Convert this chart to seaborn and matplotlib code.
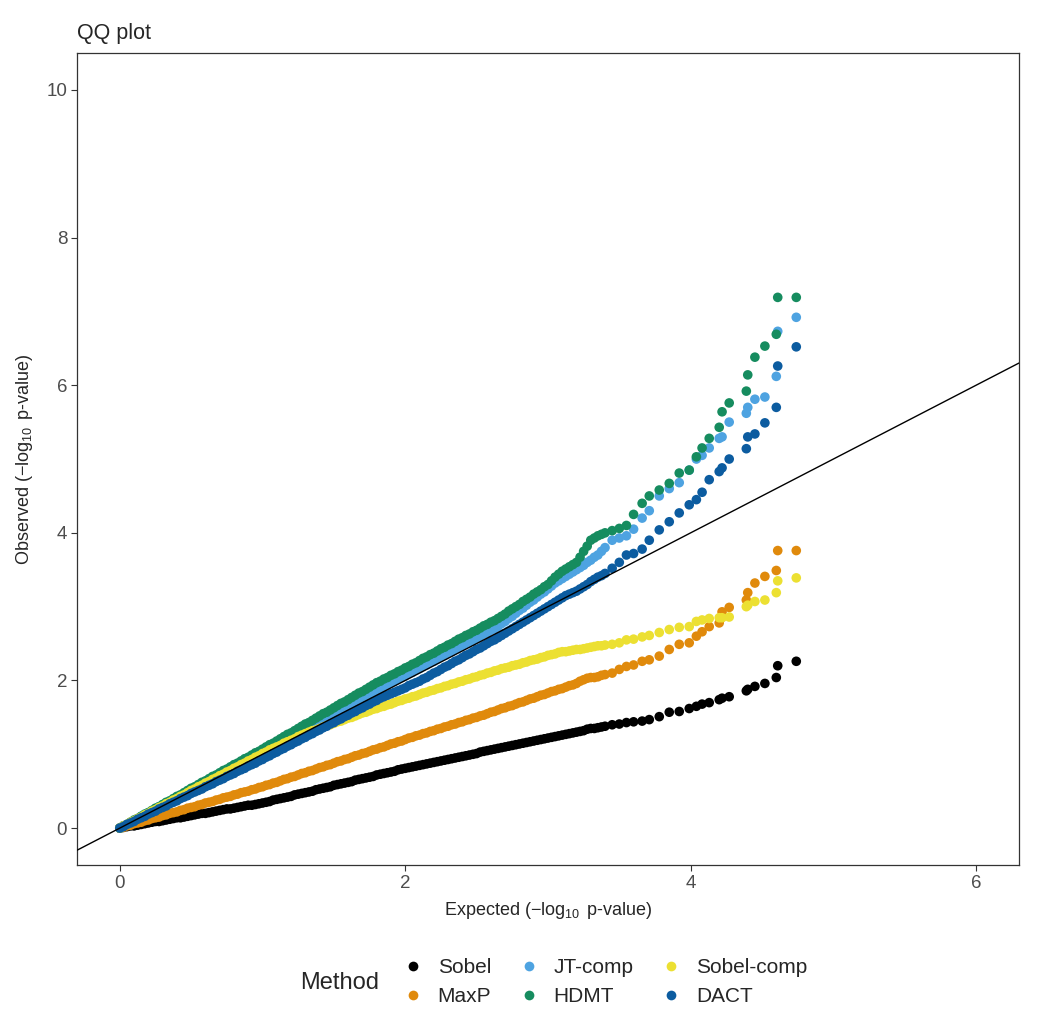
import numpy as np
import pandas as pd
import seaborn as sns
import matplotlib.pyplot as plt

methods = ["Sobel", "MaxP", "JT-comp", "HDMT", "Sobel-comp", "DACT"]
colors = ["#000000", "#E08A0C", "#4EA3E1", "#168C5F", "#ECE032", "#0C5CA0"]

# expected -log10 p, shared by all methods: dense part, then the sparse tail
expected_dense = [
    0.000, 0.025, 0.050, 0.075, 0.100, 0.125, 0.150, 0.175,
    0.200, 0.225, 0.250, 0.275, 0.300, 0.325, 0.350, 0.375,
    0.400, 0.425, 0.450, 0.475, 0.500, 0.525, 0.550, 0.575,
    0.600, 0.625, 0.650, 0.675, 0.700, 0.725, 0.750, 0.775,
    0.800, 0.825, 0.850, 0.875, 0.900, 0.925, 0.950, 0.975,
    1.000, 1.025, 1.050, 1.075, 1.100, 1.125, 1.150, 1.175,
    1.200, 1.225, 1.250, 1.275, 1.300, 1.325, 1.350, 1.375,
    1.400, 1.425, 1.450, 1.475, 1.500, 1.525, 1.550, 1.575,
    1.600, 1.625, 1.650, 1.675, 1.700, 1.725, 1.750, 1.775,
    1.800, 1.825, 1.850, 1.875, 1.900, 1.925, 1.950, 1.975,
    2.000, 2.025, 2.050, 2.075, 2.100, 2.125, 2.150, 2.175,
    2.200, 2.225, 2.250, 2.275, 2.300, 2.325, 2.350, 2.375,
    2.400, 2.425, 2.450, 2.475, 2.500, 2.525, 2.550, 2.575,
    2.600, 2.625, 2.650, 2.675, 2.700, 2.725, 2.750, 2.775,
    2.800, 2.825, 2.850, 2.875, 2.900, 2.925, 2.950, 2.975,
    3.000, 3.025, 3.050, 3.075, 3.100, 3.125, 3.150, 3.175,
    3.200, 3.225, 3.250, 3.275, 3.300, 3.325, 3.350, 3.375,
    3.400,
]
expected_tail = [
    3.45, 3.50, 3.55, 3.60, 3.66, 3.71, 3.78, 3.85, 3.92, 3.99,
    4.04, 4.08, 4.13, 4.20, 4.22, 4.27, 4.39, 4.40, 4.45, 4.52,
    4.60, 4.61, 4.74,
]
expected = expected_dense + expected_tail

obs_sobel = [
    0.00, 0.01, 0.02, 0.03, 0.03, 0.04, 0.05, 0.06,
    0.07, 0.08, 0.09, 0.09, 0.10, 0.11, 0.12, 0.13,
    0.14, 0.14, 0.15, 0.16, 0.17, 0.18, 0.19, 0.20,
    0.20, 0.21, 0.22, 0.23, 0.24, 0.25, 0.26, 0.26,
    0.27, 0.28, 0.29, 0.30, 0.31, 0.31, 0.32, 0.33,
    0.34, 0.35, 0.36, 0.38, 0.39, 0.40, 0.41, 0.42,
    0.43, 0.45, 0.46, 0.47, 0.48, 0.49, 0.50, 0.52,
    0.53, 0.54, 0.55, 0.56, 0.58, 0.59, 0.60, 0.61,
    0.62, 0.63, 0.65, 0.66, 0.67, 0.68, 0.69, 0.70,
    0.72, 0.73, 0.74, 0.75, 0.76, 0.77, 0.79, 0.80,
    0.81, 0.82, 0.83, 0.84, 0.85, 0.86, 0.87, 0.88,
    0.89, 0.90, 0.91, 0.92, 0.93, 0.94, 0.95, 0.96,
    0.97, 0.98, 0.99, 1.00, 1.01, 1.03, 1.04, 1.05,
    1.06, 1.07, 1.08, 1.09, 1.10, 1.11, 1.12, 1.13,
    1.14, 1.15, 1.16, 1.17, 1.18, 1.19, 1.20, 1.21,
    1.22, 1.23, 1.24, 1.25, 1.26, 1.27, 1.28, 1.29,
    1.30, 1.31, 1.32, 1.34, 1.35, 1.35, 1.36, 1.37,
    1.38,
] + [
    1.40, 1.41, 1.43, 1.44, 1.45, 1.47, 1.51, 1.57, 1.58, 1.62,
    1.65, 1.68, 1.70, 1.74, 1.76, 1.78, 1.86, 1.88, 1.92, 1.96,
    2.04, 2.20, 2.26,
]

obs_maxp = [
    0.00, 0.01, 0.03, 0.04, 0.06, 0.07, 0.08, 0.10,
    0.11, 0.13, 0.14, 0.15, 0.17, 0.18, 0.20, 0.21,
    0.22, 0.24, 0.25, 0.27, 0.28, 0.29, 0.31, 0.32,
    0.34, 0.35, 0.36, 0.38, 0.39, 0.41, 0.42, 0.43,
    0.45, 0.46, 0.48, 0.49, 0.50, 0.52, 0.53, 0.55,
    0.56, 0.58, 0.59, 0.61, 0.62, 0.64, 0.66, 0.67,
    0.69, 0.70, 0.72, 0.74, 0.75, 0.77, 0.78, 0.80,
    0.82, 0.83, 0.85, 0.86, 0.88, 0.90, 0.91, 0.93,
    0.94, 0.96, 0.98, 0.99, 1.01, 1.02, 1.04, 1.06,
    1.07, 1.09, 1.10, 1.12, 1.14, 1.15, 1.17, 1.18,
    1.20, 1.22, 1.23, 1.25, 1.26, 1.28, 1.29, 1.31,
    1.32, 1.34, 1.35, 1.37, 1.38, 1.40, 1.41, 1.43,
    1.44, 1.46, 1.47, 1.49, 1.50, 1.52, 1.53, 1.55,
    1.57, 1.58, 1.60, 1.62, 1.63, 1.65, 1.66, 1.68,
    1.70, 1.71, 1.73, 1.75, 1.76, 1.78, 1.80, 1.81,
    1.83, 1.85, 1.86, 1.88, 1.89, 1.91, 1.93, 1.94,
    1.96, 1.99, 2.01, 2.03, 2.04, 2.04, 2.05, 2.07,
    2.08,
] + [
    2.10, 2.15, 2.19, 2.21, 2.26, 2.28, 2.33, 2.42, 2.49, 2.51,
    2.60, 2.66, 2.73, 2.78, 2.93, 2.99, 3.09, 3.19, 3.32, 3.41,
    3.49, 3.76, 3.76,
]

obs_jt = [
    0.00, 0.03, 0.05, 0.08, 0.10, 0.13, 0.16, 0.18,
    0.21, 0.23, 0.26, 0.29, 0.31, 0.34, 0.36, 0.39,
    0.42, 0.44, 0.47, 0.49, 0.52, 0.55, 0.57, 0.60,
    0.62, 0.65, 0.68, 0.70, 0.73, 0.75, 0.78, 0.81,
    0.83, 0.86, 0.88, 0.91, 0.94, 0.96, 0.99, 1.01,
    1.04, 1.07, 1.09, 1.12, 1.14, 1.17, 1.20, 1.22,
    1.25, 1.27, 1.30, 1.32, 1.35, 1.38, 1.40, 1.43,
    1.45, 1.48, 1.51, 1.53, 1.56, 1.58, 1.61, 1.64,
    1.66, 1.69, 1.71, 1.74, 1.77, 1.79, 1.82, 1.84,
    1.87, 1.89, 1.92, 1.94, 1.97, 1.99, 2.02, 2.04,
    2.06, 2.09, 2.11, 2.14, 2.16, 2.19, 2.21, 2.24,
    2.26, 2.29, 2.32, 2.34, 2.37, 2.39, 2.42, 2.44,
    2.47, 2.50, 2.52, 2.55, 2.57, 2.60, 2.63, 2.65,
    2.68, 2.70, 2.73, 2.77, 2.80, 2.84, 2.87, 2.91,
    2.95, 2.98, 3.02, 3.06, 3.09, 3.13, 3.17, 3.20,
    3.24, 3.28, 3.32, 3.35, 3.38, 3.41, 3.44, 3.47,
    3.50, 3.53, 3.56, 3.60, 3.63, 3.67, 3.70, 3.75,
    3.80,
] + [
    3.90, 3.93, 3.96, 4.05, 4.20, 4.30, 4.50, 4.60, 4.68, 4.85,
    5.00, 5.05, 5.15, 5.28, 5.30, 5.50, 5.62, 5.70, 5.81, 5.84,
    6.12, 6.73, 6.92,
]

obs_hdmt = [
    0.00, 0.03, 0.05, 0.08, 0.11, 0.13, 0.16, 0.19,
    0.21, 0.24, 0.27, 0.29, 0.32, 0.35, 0.37, 0.40,
    0.43, 0.45, 0.48, 0.51, 0.54, 0.56, 0.59, 0.62,
    0.64, 0.67, 0.70, 0.72, 0.75, 0.78, 0.80, 0.83,
    0.86, 0.88, 0.91, 0.94, 0.96, 0.99, 1.02, 1.04,
    1.07, 1.10, 1.13, 1.15, 1.18, 1.21, 1.24, 1.27,
    1.29, 1.32, 1.35, 1.38, 1.41, 1.43, 1.46, 1.49,
    1.52, 1.55, 1.57, 1.60, 1.63, 1.66, 1.69, 1.71,
    1.74, 1.77, 1.80, 1.83, 1.85, 1.88, 1.91, 1.94,
    1.97, 1.99, 2.02, 2.04, 2.07, 2.09, 2.12, 2.14,
    2.17, 2.19, 2.22, 2.24, 2.27, 2.30, 2.32, 2.35,
    2.37, 2.40, 2.43, 2.45, 2.48, 2.50, 2.53, 2.56,
    2.58, 2.61, 2.63, 2.66, 2.68, 2.71, 2.74, 2.76,
    2.79, 2.81, 2.84, 2.87, 2.90, 2.94, 2.97, 3.00,
    3.03, 3.07, 3.10, 3.13, 3.17, 3.20, 3.23, 3.27,
    3.30, 3.35, 3.40, 3.44, 3.48, 3.51, 3.54, 3.57,
    3.60, 3.67, 3.75, 3.82, 3.90, 3.93, 3.96, 3.98,
    4.00,
] + [
    4.03, 4.06, 4.10, 4.25, 4.40, 4.50, 4.58, 4.67, 4.81, 4.85,
    5.03, 5.15, 5.28, 5.43, 5.64, 5.76, 5.92, 6.14, 6.38, 6.53,
    6.69, 7.19, 7.19,
]

obs_sobel_comp = [
    0.00, 0.03, 0.05, 0.08, 0.10, 0.13, 0.15, 0.18,
    0.20, 0.23, 0.25, 0.28, 0.30, 0.33, 0.35, 0.38,
    0.40, 0.43, 0.45, 0.48, 0.51, 0.53, 0.56, 0.58,
    0.61, 0.63, 0.66, 0.68, 0.71, 0.73, 0.76, 0.78,
    0.81, 0.83, 0.86, 0.88, 0.91, 0.93, 0.96, 0.98,
    1.01, 1.03, 1.06, 1.08, 1.10, 1.12, 1.15, 1.17,
    1.19, 1.21, 1.24, 1.26, 1.28, 1.30, 1.32, 1.33,
    1.35, 1.37, 1.39, 1.40, 1.42, 1.44, 1.45, 1.47,
    1.49, 1.50, 1.52, 1.54, 1.56, 1.57, 1.59, 1.61,
    1.62, 1.64, 1.65, 1.67, 1.68, 1.70, 1.72, 1.73,
    1.75, 1.76, 1.78, 1.79, 1.81, 1.83, 1.84, 1.86,
    1.87, 1.89, 1.90, 1.92, 1.93, 1.95, 1.96, 1.98,
    1.99, 2.01, 2.02, 2.04, 2.05, 2.07, 2.08, 2.10,
    2.11, 2.13, 2.14, 2.16, 2.17, 2.18, 2.20, 2.21,
    2.22, 2.24, 2.25, 2.27, 2.28, 2.29, 2.31, 2.32,
    2.34, 2.35, 2.36, 2.38, 2.39, 2.39, 2.40, 2.41,
    2.42, 2.42, 2.43, 2.44, 2.45, 2.46, 2.47, 2.47,
    2.48,
] + [
    2.49, 2.51, 2.55, 2.56, 2.59, 2.61, 2.65, 2.69, 2.72, 2.73,
    2.80, 2.82, 2.84, 2.85, 2.85, 2.86, 3.00, 3.02, 3.07, 3.09,
    3.19, 3.35, 3.39,
]

obs_dact = [
    0.00, 0.02, 0.05, 0.07, 0.09, 0.12, 0.14, 0.16,
    0.19, 0.21, 0.23, 0.26, 0.28, 0.30, 0.33, 0.35,
    0.37, 0.40, 0.42, 0.44, 0.47, 0.49, 0.51, 0.53,
    0.56, 0.58, 0.60, 0.63, 0.65, 0.67, 0.70, 0.72,
    0.74, 0.77, 0.79, 0.81, 0.84, 0.86, 0.88, 0.91,
    0.93, 0.96, 0.98, 1.01, 1.03, 1.06, 1.08, 1.11,
    1.13, 1.16, 1.18, 1.21, 1.23, 1.26, 1.28, 1.31,
    1.33, 1.36, 1.38, 1.41, 1.43, 1.46, 1.48, 1.51,
    1.53, 1.56, 1.58, 1.61, 1.63, 1.66, 1.68, 1.71,
    1.73, 1.76, 1.78, 1.80, 1.82, 1.84, 1.86, 1.88,
    1.90, 1.93, 1.95, 1.97, 1.99, 2.02, 2.04, 2.07,
    2.10, 2.12, 2.15, 2.18, 2.20, 2.23, 2.26, 2.28,
    2.31, 2.34, 2.36, 2.39, 2.42, 2.44, 2.47, 2.50,
    2.53, 2.55, 2.58, 2.61, 2.64, 2.67, 2.70, 2.73,
    2.76, 2.79, 2.82, 2.85, 2.88, 2.91, 2.94, 2.97,
    3.00, 3.03, 3.06, 3.09, 3.12, 3.15, 3.17, 3.19,
    3.21, 3.24, 3.27, 3.30, 3.34, 3.37, 3.40, 3.42,
    3.45,
] + [
    3.52, 3.60, 3.70, 3.72, 3.78, 3.90, 4.04, 4.15, 4.27, 4.38,
    4.45, 4.55, 4.72, 4.83, 4.88, 5.00, 5.14, 5.30, 5.34, 5.49,
    5.70, 6.26, 6.52,
]

observed = [obs_sobel, obs_maxp, obs_jt, obs_hdmt, obs_sobel_comp, obs_dact]

df = pd.concat(
    [pd.DataFrame({"expected": expected, "observed": o, "Method": m})
     for m, o in zip(methods, observed)],
    ignore_index=True,
)

sns.set_style("white")
plt.rcParams["font.family"] = ["Liberation Sans", "DejaVu Sans"]
plt.rcParams["mathtext.fontset"] = "custom"
plt.rcParams["mathtext.rm"] = "Liberation Sans"
plt.rcParams["mathtext.it"] = "Liberation Sans"
plt.rcParams["mathtext.bf"] = "Liberation Sans"

fig = plt.figure(figsize=(10.5, 10.22), dpi=100)
ax = fig.add_axes([0.0733, 0.1536, 0.8971, 0.7945])

sns.scatterplot(
    data=df, x="expected", y="observed", hue="Method",
    hue_order=methods, palette=colors, s=48, linewidth=0,
    alpha=1, ax=ax,
)
ax.axline((0, 0), slope=1, color="black", lw=1.0, zorder=5)

ax.set_xlim(-0.3, 6.3)
ax.set_ylim(-0.5, 10.5)
ax.set_xticks([0, 2, 4, 6])
ax.set_yticks([0, 2, 4, 6, 8, 10])
ax.tick_params(axis="both", direction="out", length=4, width=0.8,
               color="#333333", labelsize=13.5, labelcolor="#4D4D4D",
               bottom=True, left=True, pad=3)
for sp in ax.spines.values():
    sp.set_color("#333333")
    sp.set_linewidth(0.9)

ax.set_xlabel("Expected ($-\\log_{10}$ p-value)", fontsize=13, labelpad=6)
ax.set_ylabel("Observed ($-\\log_{10}$ p-value)", fontsize=13, labelpad=8)
ax.set_title("QQ plot", loc="left", fontsize=15.5, pad=10)

handles, labels = ax.get_legend_handles_labels()
ax.get_legend().remove()
for h in handles:
    h.set_markersize(7)
fig.legend(
    handles, labels, ncol=3, loc="center",
    bbox_to_anchor=(0.575, 0.039), frameon=False, fontsize=15,
    handletextpad=0.6, columnspacing=1.2, labelspacing=0.45,
    handlelength=1.2,
)
fig.text(0.286, 0.038, "Method", fontsize=17, ha="left", va="center")

fig.savefig("out.png", dpi=100)
